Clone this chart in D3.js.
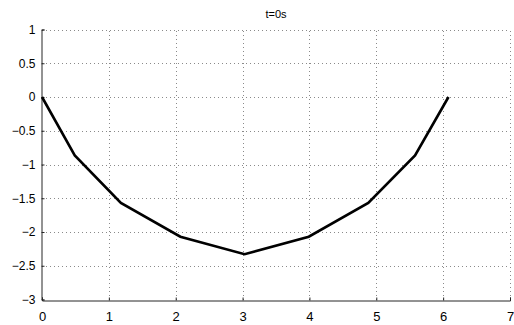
<!DOCTYPE html>
<html>
<head>
<meta charset="utf-8">
<script src="https://cdn.jsdelivr.net/npm/d3@7"></script>
<style>
  html, body { margin: 0; padding: 0; background: #fff; }
  svg { display: block; font-family: "Liberation Sans", Arial, sans-serif; }
</style>
</head>
<body>
<svg id="chart" width="514" height="325"></svg>
<script>
// Chain node positions at t = 0
const xValues = [0, 0.49, 1.18, 2.07, 3.03, 3.99, 4.88, 5.58, 6.08];
const yValues = [0, -0.866, -1.57, -2.07, -2.33, -2.07, -1.57, -0.866, 0];
const xTicks = [0, 1, 2, 3, 4, 5, 6, 7];
const yTicks = [-3, -2.5, -2, -1.5, -1, -0.5, 0, 0.5, 1];
const titleText = "t=0s";

const svg = d3.select("#chart");
const plotLeft = 42, plotRight = 510, plotTop = 29.5, plotBottom = 299.5;

const x = d3.scaleLinear().domain([0, 7]).range([plotLeft, plotRight]);
const y = d3.scaleLinear().domain([-3, 1]).range([plotBottom, plotTop]);

// dotted grid
const grid = svg.append("g").attr("stroke", "#8a8a8a").attr("stroke-width", 1)
  .attr("stroke-dasharray", "1,3").attr("shape-rendering", "crispEdges");
grid.selectAll("line.v").data(xTicks.filter(d => d > 0)).join("line")
  .attr("x1", d => Math.round(x(d)) + 0.5).attr("x2", d => Math.round(x(d)) + 0.5)
  .attr("y1", plotBottom).attr("y2", plotTop);
grid.selectAll("line.h").data(yTicks.filter(d => d > -3)).join("line")
  .attr("y1", d => Math.round(y(d)) + 0.5).attr("y2", d => Math.round(y(d)) + 0.5)
  .attr("x1", plotLeft).attr("x2", plotRight);

// axes with inward ticks
const xAxis = d3.axisBottom(x).tickValues(xTicks).tickSize(-3)
  .tickFormat(d3.format("d"));
const yAxis = d3.axisLeft(y).tickValues(yTicks).tickSize(-3).tickPadding(6)
  .tickFormat(d => String(d).replace("-", "\u2212"));

const gx = svg.append("g").attr("transform", `translate(0,${Math.round(plotBottom) + 0.5})`).call(xAxis);
const gy = svg.append("g").attr("transform", `translate(${plotLeft - 0.5},0)`).call(yAxis);
[gx, gy].forEach(g => {
  g.select(".domain").attr("stroke", "#262626").attr("stroke-width", 1);
  g.selectAll(".tick line").attr("stroke", "#262626");
  g.selectAll("text").attr("fill", "#000")
    .style("font-family", "'Liberation Sans', Arial, sans-serif");
});
gy.selectAll("text").style("font-size", "12px");
gx.selectAll("text").style("font-size", "13px").attr("y", 20).attr("dy", 0);

// chain
const line = d3.line().x((d, i) => x(xValues[i])).y(d => y(d));
svg.append("path").datum(yValues)
  .attr("d", line).attr("fill", "none").attr("stroke", "#000")
  .attr("stroke-width", 2.6).attr("stroke-linejoin", "miter");

// title
svg.append("text").attr("x", (plotLeft + plotRight) / 2).attr("y", 18).attr("text-anchor", "middle")
  .style("font-size", "11px").attr("fill", "#000").text(titleText);
</script>
</body>
</html>
